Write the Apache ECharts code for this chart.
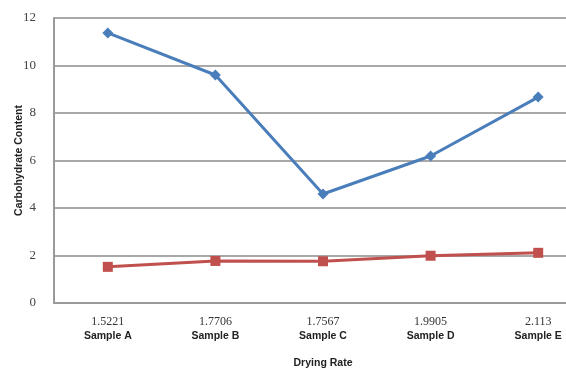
<!DOCTYPE html>
<html><head><meta charset="utf-8">
<script src="https://cdn.jsdelivr.net/npm/echarts@6/dist/echarts.min.js"></script>
<style>html,body{margin:0;padding:0;background:#fff}#c{width:566px;height:368px}</style>
</head><body><div id="c"></div>
<script>
const categories = ['Sample A','Sample B','Sample C','Sample D','Sample E'];
const dryingRates = ['1.5221','1.7706','1.7567','1.9905','2.113'];
const carbohydrate = [11.37, 9.6, 4.59, 6.19, 8.67];
const dryingRateSeries = [1.5221, 1.7706, 1.7567, 1.9905, 2.113];
const yTicks = [0, 2, 4, 6, 8, 10, 12];

const chart = echarts.init(document.getElementById('c'));
chart.setOption({
  animation: false,
  backgroundColor: '#fff',
  grid: { left: 54, top: 18, width: 538, height: 285, containLabel: false, outerBoundsMode: 'none' },
  xAxis: {
    type: 'category',
    data: categories,
    boundaryGap: true,
    axisLine: { show: true, lineStyle: { color: '#9a9a9a', width: 2 } },
    axisTick: { show: false },
    axisLabel: {
      interval: 0,
      margin: 12,
      formatter: (v, i) => '{n|' + dryingRates[i] + '}\n{s|' + v + '}',
      rich: {
        n: { fontFamily: 'Liberation Serif', fontSize: 12, color: '#333', lineHeight: 14 },
        s: { fontFamily: 'Liberation Sans', fontSize: 10.5, fontWeight: 'bold', color: '#222', lineHeight: 14 }
      }
    },
    name: 'Drying Rate',
    nameLocation: 'middle',
    nameMoveOverlap: false,
    nameGap: 55,
    nameTextStyle: { fontFamily: 'Liberation Sans', fontSize: 10.5, fontWeight: 'bold', color: '#222' }
  },
  yAxis: {
    type: 'value',
    min: 0, max: 12, interval: 2,
    axisLine: { show: true, lineStyle: { color: '#9a9a9a', width: 2 } },
    axisTick: { show: false },
    splitLine: { show: true, lineStyle: { color: '#a8a8a8', width: 2 } },
    axisLabel: {
      margin: 18,
      fontFamily: 'Liberation Serif',
      fontSize: 13, color: '#444',
      formatter: v => yTicks.includes(v) ? String(v) : ''
    },
    name: 'Carbohydrate Content',
    nameLocation: 'middle',
    nameMoveOverlap: false,
    nameGap: 29,
    nameRotate: 90,
    nameTextStyle: { fontFamily: 'Liberation Sans', fontSize: 10.5, fontWeight: 'bold', color: '#222' }
  },
  series: [
    {
      type: 'line',
      data: carbohydrate,
      symbol: 'diamond',
      symbolSize: 11,
      lineStyle: { color: '#4a7ebb', width: 3 },
      itemStyle: { color: '#4a7ebb' }
    },
    {
      type: 'line',
      data: dryingRateSeries,
      symbol: 'rect',
      symbolSize: 10,
      lineStyle: { color: '#c0504d', width: 3 },
      itemStyle: { color: '#c0504d' }
    }
  ]
});
</script></body></html>
